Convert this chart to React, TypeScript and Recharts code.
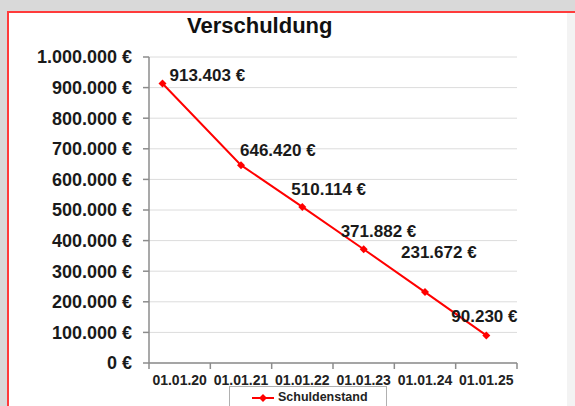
import { LineChart, Line, XAxis, YAxis, CartesianGrid } from 'recharts'

const categories = ['01.01.20', '01.01.21', '01.01.22', '01.01.23', '01.01.24', '01.01.25']
const xPositions = [0.22, 1.5, 2.5, 3.5, 4.5, 5.5]
const debt = [913403, 646420, 510114, 371882, 231672, 90230]
const yTicks = [0, 100000, 200000, 300000, 400000, 500000, 600000, 700000, 800000, 900000, 1000000]
const xTicks = [0, 1, 2, 3, 4, 5, 6]
// manual label placement relative to the point (dx, dy)
const labelOffsets = [
  [7, -7],
  [-1, -14],
  [-11, -16],
  [-23, -17],
  [-24, -39],
  [-35, -18],
]

const data = debt.map((v, i) => ({ x: xPositions[i], value: v }))

const W = 575
const H = 406
const margin = { top: 57, right: 58, left: 0, bottom: 13 }
const yAxisWidth = 149
const plotWidth = W - margin.left - margin.right - yAxisWidth
const halfBand = plotWidth / categories.length / 2

const font = 'Liberation Sans, Arial, sans-serif'

function euro(v: number) {
  const s = String(Math.round(v)).replace(/\B(?=(\d{3})+(?!\d))/g, '.')
  return `${s} €`
}

function XTick(props: any) {
  const { x, y, payload } = props
  const idx = xTicks.indexOf(payload.value)
  if (idx < 0 || idx >= categories.length) return null
  return (
    <text
      x={x + halfBand}
      y={y + 14}
      textAnchor="middle"
      fontFamily={font}
      fontWeight="bold"
      fontSize={14}
      fill="#222"
    >
      {categories[idx]}
    </text>
  )
}

function PointLabel(props: any) {
  const { x, y, value, index } = props
  const [dx, dy] = labelOffsets[index] || [0, -10]
  return (
    <text
      x={x + dx}
      y={y + dy}
      dominantBaseline="middle"
      fontFamily={font}
      fontWeight="bold"
      fontSize={17}
      fill="#1a1a1a"
    >
      {euro(value)}
    </text>
  )
}

function Diamond(props: any) {
  const { cx, cy } = props
  if (cx == null || cy == null) return null
  return <path d={`M${cx},${cy - 4}L${cx + 4},${cy}L${cx},${cy + 4}L${cx - 4},${cy}Z`} fill="#ff0000" />
}

function LegendBox() {
  return (
    <div
      style={{
        position: 'absolute',
        left: 229,
        top: 386,
        width: 158,
        height: 24,
        border: '1px solid #b0b0b0',
        background: '#fff',
        boxSizing: 'border-box',
        display: 'flex',
        alignItems: 'flex-start',
        paddingTop: 3,
        paddingLeft: 22,
        fontFamily: font,
        fontWeight: 'bold',
        fontSize: 12.5,
        color: '#222',
      }}
    >
      <svg width={23} height={12} style={{ marginRight: 3, marginTop: 2 }}>
        <line x1={0} y1={6} x2={22} y2={6} stroke="#ff0000" strokeWidth={2} />
        <path d="M11,2L15,6L11,10L7,6Z" fill="#ff0000" />
      </svg>
      Schuldenstand
    </div>
  )
}

export default function App() {
  return (
    <div
      style={{
        position: 'absolute',
        left: 0,
        top: 0,
        width: W,
        height: H,
        overflow: 'hidden',
        background: '#d9d9d9',
      }}
    >
      <div
        style={{
          position: 'absolute',
          left: 7,
          top: 11,
          width: 568,
          height: 400,
          background: '#fff',
          borderTop: '2px solid #ff3b3b',
          borderLeft: '2px solid #ff3b3b',
          boxSizing: 'border-box',
        }}
      />
      <div
        style={{
          position: 'absolute',
          left: 567,
          top: 13,
          width: 8,
          height: 400,
          background: '#f3f3f3',
        }}
      />
      <span
        style={{
          position: 'absolute',
          left: 187,
          top: 13,
          fontFamily: font,
          fontWeight: 'bold',
          fontSize: 22,
          color: '#111',
        }}
      >
        Verschuldung
      </span>
      <div style={{ position: 'absolute', left: 0, top: 0 }}>
        <LineChart width={W} height={H} data={data} margin={margin}>
          <CartesianGrid vertical={false} stroke="#dcdcdc" strokeWidth={1} />
          <XAxis
            dataKey="x"
            type="number"
            domain={[0, 6]}
            ticks={xTicks}
            interval={0}
            height={30}
            axisLine={{ stroke: '#8c8c8c', strokeWidth: 1.5 }}
            tickLine={{ stroke: '#8c8c8c', strokeWidth: 1.5 }}
            tickSize={6}
            tick={<XTick />}
          />
          <XAxis
            xAxisId="top"
            orientation="top"
            type="number"
            domain={[0, 6]}
            height={0}
            tick={false}
            tickLine={false}
            axisLine={{ stroke: '#b0b0b0' }}
          />
          <YAxis
            type="number"
            domain={[0, 1000000]}
            ticks={yTicks}
            interval={0}
            width={yAxisWidth}
            axisLine={{ stroke: '#8c8c8c', strokeWidth: 1.5 }}
            tickLine={{ stroke: '#8c8c8c', strokeWidth: 1.5 }}
            tickSize={6}
            tickMargin={11}
            tickFormatter={euro}
            tick={{ fontFamily: font, fontWeight: 'bold', fontSize: 18, fill: '#1a1a1a' }}
          />
          <YAxis
            yAxisId="right"
            orientation="right"
            width={0}
            domain={[0, 1000000]}
            tick={false}
            tickLine={false}
            axisLine={{ stroke: '#b0b0b0' }}
          />
          <Line
            dataKey="value"
            stroke="#ff0000"
            strokeWidth={2}
            dot={<Diamond />}
            activeDot={false}
            label={<PointLabel />}
            isAnimationActive={false}
          />
        </LineChart>
      </div>
      <LegendBox />
    </div>
  )
}
